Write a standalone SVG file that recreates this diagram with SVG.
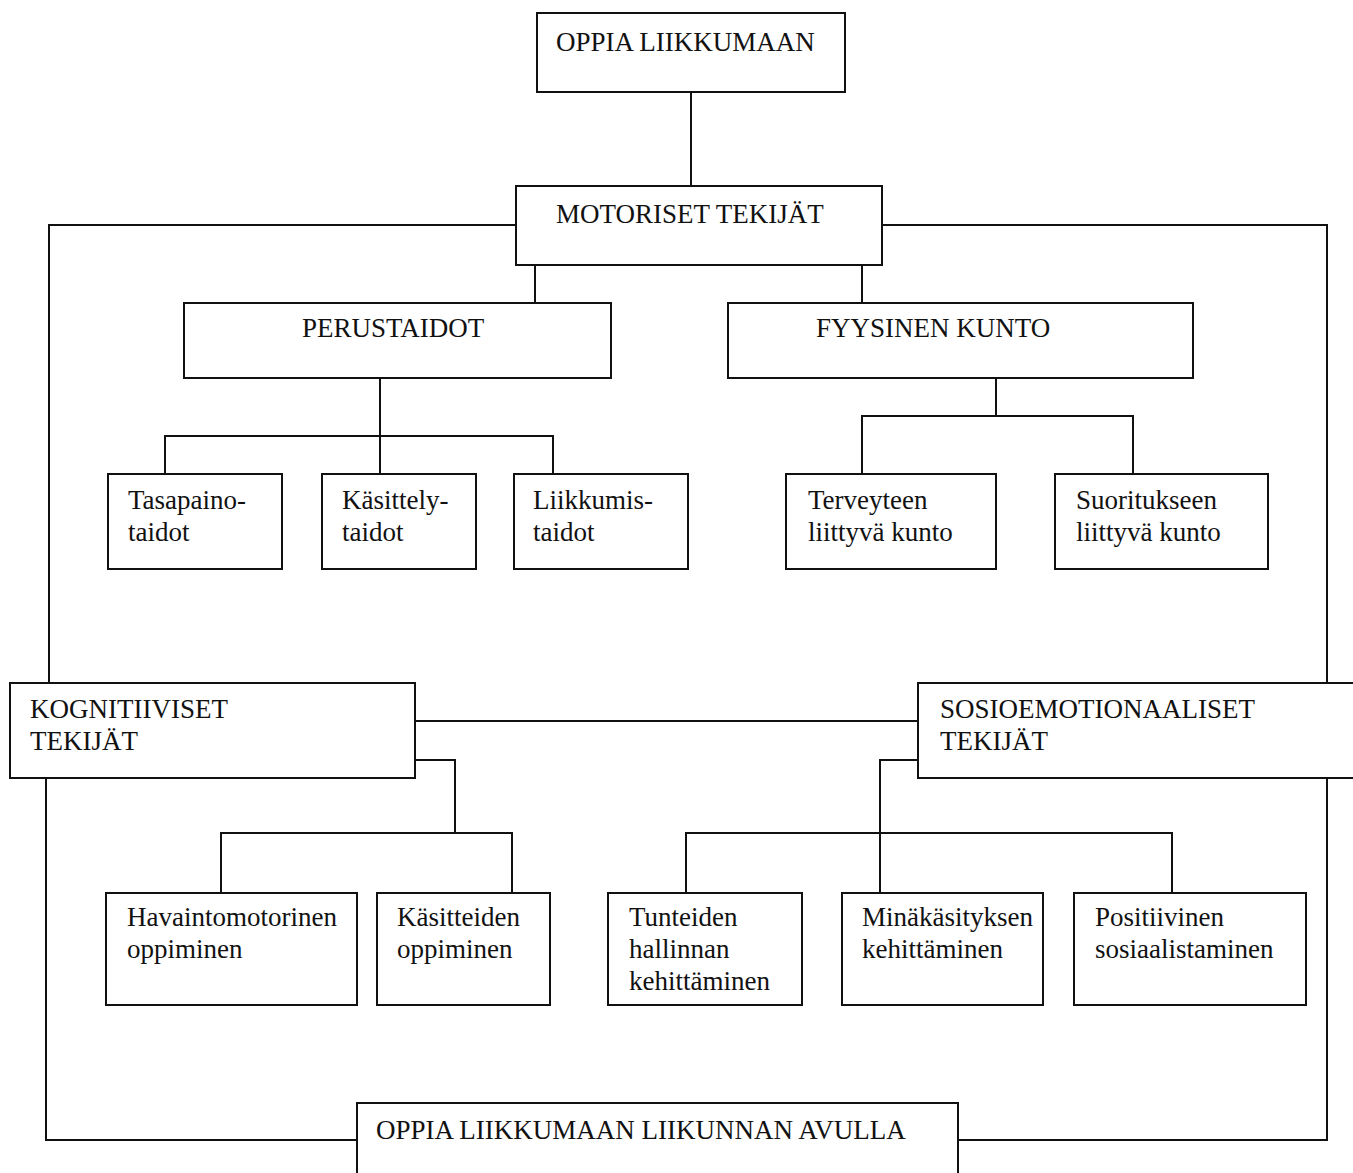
<svg xmlns="http://www.w3.org/2000/svg" width="1353" height="1173" viewBox="0 0 1353 1173">
<style>
rect{fill:#fff;stroke:#111;stroke-width:2}
text{font-family:"Liberation Serif","Times New Roman",serif;font-size:27px;fill:#111}
#connectors path{fill:none;stroke:#111;stroke-width:2}
</style>
<rect x="0" y="0" width="1353" height="1173" style="stroke:none"/>
<g id="connectors">
<path d="M691,92V186"/>
<path d="M516,225H49V683M882,225H1327V683"/>
<path d="M46,778V1140H357M1327,778V1140H958"/>
<path d="M535,265V303M862,265V303"/>
<path d="M380,378V436M165,474V436H553V474M380,436V474"/>
<path d="M996,378V416M862,474V416H1133V474"/>
<path d="M415,721H918"/>
<path d="M415,760H455V833M221,893V833H512V893"/>
<path d="M918,760H880V893M686,893V833H1172V893"/>
</g>
<g id="n-oppia"><rect x="537" y="13" width="308" height="79"/><text x="556" y="51">OPPIA LIIKKUMAAN</text></g>
<g id="n-motoriset"><rect x="516" y="186" width="366" height="79"/><text x="556" y="223">MOTORISET TEKIJÄT</text></g>
<g id="n-perustaidot"><rect x="184" y="303" width="427" height="75"/><text x="302" y="337">PERUSTAIDOT</text></g>
<g id="n-fyysinen"><rect x="728" y="303" width="465" height="75"/><text x="816" y="337">FYYSINEN KUNTO</text></g>
<g id="n-tasapaino"><rect x="108" y="474" width="174" height="95"/><text x="128" y="509">Tasapaino-</text><text x="128" y="541">taidot</text></g>
<g id="n-kasittely"><rect x="322" y="474" width="154" height="95"/><text x="342" y="509">Käsittely-</text><text x="342" y="541">taidot</text></g>
<g id="n-liikkumis"><rect x="514" y="474" width="174" height="95"/><text x="533" y="509">Liikkumis-</text><text x="533" y="541">taidot</text></g>
<g id="n-terveyteen"><rect x="786" y="474" width="210" height="95"/><text x="808" y="509">Terveyteen</text><text x="808" y="541">liittyvä kunto</text></g>
<g id="n-suoritukseen"><rect x="1055" y="474" width="213" height="95"/><text x="1076" y="509">Suoritukseen</text><text x="1076" y="541">liittyvä kunto</text></g>
<g id="n-kognitiiviset"><rect x="10" y="683" width="405" height="95"/><text x="30" y="718">KOGNITIIVISET</text><text x="30" y="750">TEKIJÄT</text></g>
<g id="n-sosio"><rect x="918" y="683" width="440" height="95"/><text x="940" y="718">SOSIOEMOTIONAALISET</text><text x="940" y="750">TEKIJÄT</text></g>
<g id="n-havainto"><rect x="106" y="893" width="251" height="112"/><text x="127" y="926">Havaintomotorinen</text><text x="127" y="958">oppiminen</text></g>
<g id="n-kasitteiden"><rect x="377" y="893" width="173" height="112"/><text x="397" y="926">Käsitteiden</text><text x="397" y="958">oppiminen</text></g>
<g id="n-tunteiden"><rect x="608" y="893" width="194" height="112"/><text x="629" y="926">Tunteiden</text><text x="629" y="958">hallinnan</text><text x="629" y="990">kehittäminen</text></g>
<g id="n-minakasitys"><rect x="842" y="893" width="201" height="112"/><text x="862" y="926">Minäkäsityksen</text><text x="862" y="958">kehittäminen</text></g>
<g id="n-positiivinen"><rect x="1074" y="893" width="232" height="112"/><text x="1095" y="926">Positiivinen</text><text x="1095" y="958">sosiaalistaminen</text></g>
<g id="n-avulla"><rect x="357" y="1103" width="601" height="80"/><text x="376" y="1139">OPPIA LIIKKUMAAN LIIKUNNAN AVULLA</text></g>
</svg>
